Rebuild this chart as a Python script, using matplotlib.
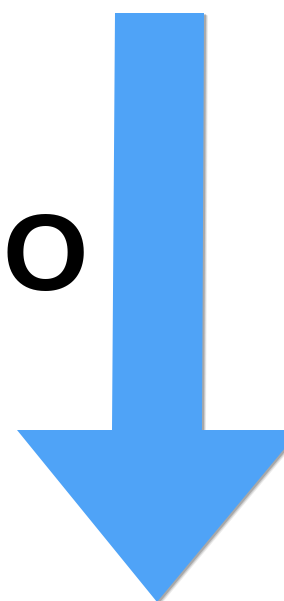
import matplotlib.pyplot as plt
from matplotlib.patches import Polygon

# форма стрелки (пиксели картинки, ось y вниз)
shaft_x = [115, 204, 202, 112]
shaft_y = [13, 13, 430, 430]
head_x = [17, 300, 157]
head_y = [430, 430, 602]
label = "O"
arrow_color = "#4FA3F7"

fig = plt.figure(figsize=(2.84, 6.01), dpi=100)
ax = fig.add_axes([0, 0, 1, 1])
ax.set_xlim(0, 284)
ax.set_ylim(601, 0)
ax.axis('off')

pts = [(shaft_x[0], shaft_y[0]), (shaft_x[1], shaft_y[1]), (shaft_x[2], shaft_y[2]),
       (head_x[1], head_y[1]), (head_x[2], head_y[2]), (head_x[0], head_y[0]),
       (shaft_x[3], shaft_y[3])]

# тень
for d, a in [(4, 0.08), (3, 0.12), (2, 0.18)]:
    ax.add_patch(Polygon([(x + d, y + d * 0.6) for x, y in pts], closed=True,
                         facecolor='black', edgecolor='none', alpha=a))
ax.add_patch(Polygon(pts, closed=True, facecolor=arrow_color, edgecolor='none'))

# буква
ax.text(45, 290, label, fontsize=79, fontweight='bold', family='Liberation Sans',
        ha='center', va='baseline', color='black')

fig.savefig('out.png', dpi=100)
